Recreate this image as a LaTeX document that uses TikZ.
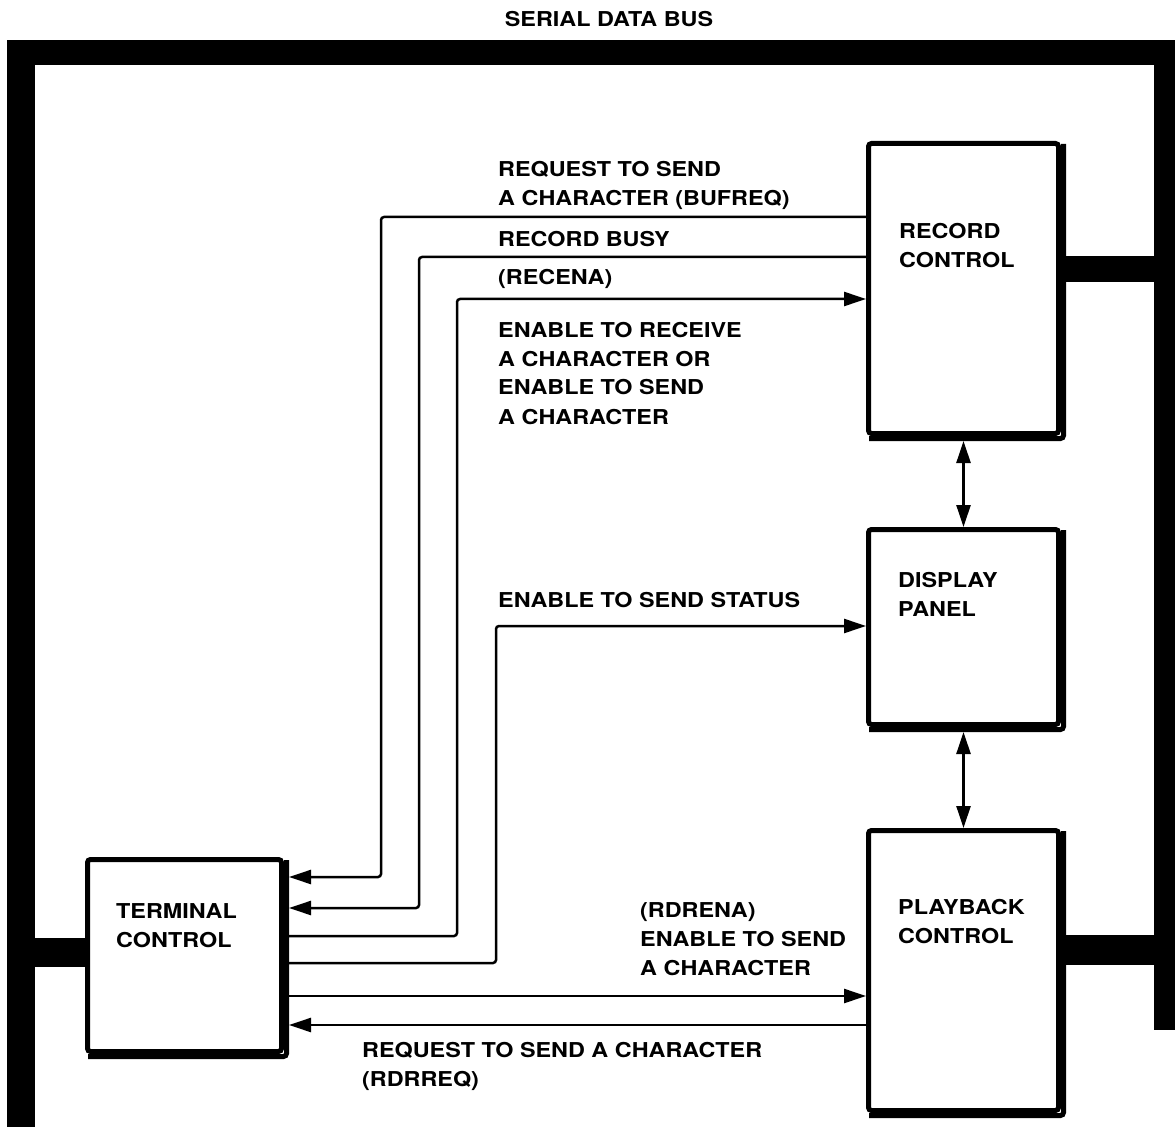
\documentclass[tikz,border=0pt]{standalone}
\usepackage{fontspec}
\setmainfont{TeX Gyre Heros}[FakeStretch=1.14]
\usetikzlibrary{arrows.meta,calc}
\begin{document}
\begin{tikzpicture}[x=1pt,y=-1pt,
  bus/.style={fill=black},
  unit/.style={draw, line width=5pt, rounded corners=3pt, inner sep=0pt, anchor=north west},
  shadowedge/.style={line width=5pt, rounded corners=3pt},
  lbl/.style={anchor=base west, inner sep=0pt, align=left, font=\fontsize{20.5}{29}\selectfont\bfseries},
  sig/.style={line width=2.5pt, rounded corners=3pt},
  tip/.style={-{Triangle[length=22pt,width=14pt]}},
  tipboth/.style={{Triangle[length=22pt,width=14pt]}-{Triangle[length=22pt,width=14pt]}}
]
\useasboundingbox[fill=white] (0,0) rectangle (1175,1131);

% serial data bus
\fill[bus] (7,40) rectangle (1175,65);
\fill[bus] (7,40) rectangle (35,1127);
\fill[bus] (1154,40) rectangle (1175,1030);
\fill[bus] (1062,256) rectangle (1154,282);
\fill[bus] (1062,935) rectangle (1154,965);
\fill[bus] (35,938) rectangle (87,967);
\node[lbl, anchor=base] (bustitle) at (609,27) {SERIAL DATA BUS};

% functional units
\node[unit, minimum width=190pt, minimum height=290pt] (rec) at (866,141) {};
\node[unit, minimum width=190pt, minimum height=195pt] (disp) at (866,527) {};
\node[unit, minimum width=190pt, minimum height=280pt] (play) at (866,828) {};
\node[unit, minimum width=194pt, minimum height=192pt] (term) at (85,857) {};
\foreach \u in {rec,disp,play,term}{
  \draw[shadowedge] ($(\u.north east)+(2.5,3)$) -- ($(\u.south east)+(2.5,2.5)$) -- ($(\u.south west)+(3,2.5)$);
}
\coordinate (tE) at ($(term.east)+(5,0)$);
\coordinate (rS) at ($(rec.south)+(0,5)$);
\coordinate (dS) at ($(disp.south)+(0,5)$);

% unit names (anchored on the baseline of the last line)
\node[lbl] (recl)  at (899,268) {RECORD\\CONTROL};
\node[lbl] (displ) at (898,616) {DISPLAY\\PANEL};
\node[lbl] (playl) at (898,943) {PLAYBACK\\CONTROL};
\node[lbl] (terml) at (116,947) {TERMINAL\\CONTROL};

% control signals
\draw[sig, tip] (rec.west |- 0,217) -| (381,877) -- (tE |- 0,877);
\draw[sig, tip] (rec.west |- 0,257) -| (419,908) -- (tE |- 0,908);
\draw[sig, tip] (tE |- 0,936) -| (457,299) -- (rec.west |- 0,299);
\draw[sig, tip] (tE |- 0,963) -| (496,626) -- (disp.west |- 0,626);
\draw[sig, tip] (tE |- 0,996) -- (play.west |- 0,996);
\draw[sig, tip] (play.west |- 0,1025) -- (tE |- 0,1025);
\draw[sig, tipboth] (rS) -- (disp.north);
\draw[sig, tipboth] (dS) -- (play.north);

% signal names (anchored on the baseline of the last line)
\node[lbl] (l1) at (498,206) {REQUEST TO SEND\\A CHARACTER (BUFREQ)};
\node[lbl] (l2) at (498,247) {RECORD BUSY};
\node[lbl] (l3) at (498,285) {(RECENA)};
\node[lbl] (l4) at (498,424) {ENABLE TO RECEIVE\\A CHARACTER OR\\ENABLE TO SEND\\A CHARACTER};
\node[lbl] (l5) at (498,607) {ENABLE TO SEND STATUS};
\node[lbl] (l6) at (640,975) {(RDRENA)\\ENABLE TO SEND\\A CHARACTER};
\node[lbl] (l7) at (362,1086) {REQUEST TO SEND A CHARACTER\\(RDRREQ)};
\end{tikzpicture}
\end{document}
